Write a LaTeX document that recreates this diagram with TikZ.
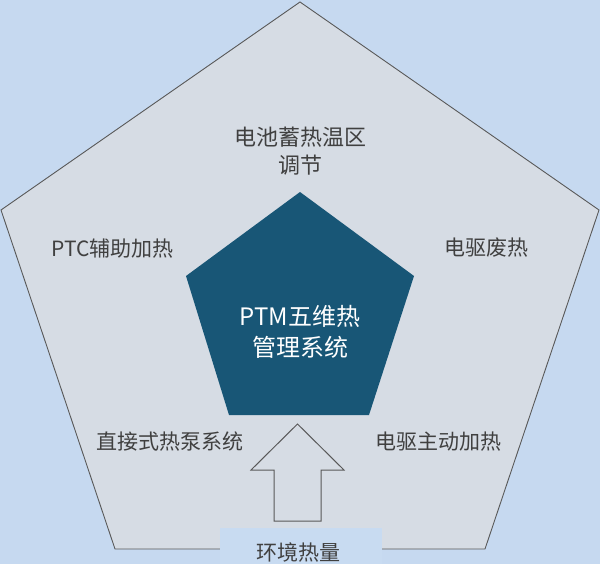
\documentclass[tikz,border=0pt]{standalone}
\usepackage{fontspec}
\newfontfamily\cjk{Noto Sans CJK SC}
\definecolor{bgblue}{HTML}{C6D9F0}
\definecolor{boxblue}{HTML}{C8DBF1}
\definecolor{pentfill}{HTML}{D6DCE4}
\definecolor{pentline}{HTML}{595959}
\definecolor{coreblue}{HTML}{185676}
\definecolor{txtgray}{HTML}{404040}
\begin{document}
\begin{tikzpicture}[x=1pt,y=-1pt,
  lbl/.style={text=txtgray,font=\cjk\fontsize{21}{28}\selectfont,align=center,inner sep=0pt},
  corelbl/.style={text=white,font=\cjk\fontsize{24}{31}\selectfont,align=center,inner sep=0pt},
  outerpent/.style={fill=pentfill,draw=pentline,line width=0.9pt,line join=miter},
  innerpent/.style={fill=coreblue,draw=none},
  hollowarrow/.style={fill=pentfill,draw=pentline,line width=1pt,line join=miter}]
\fill[bgblue] (0,0) rectangle (600,564);
\useasboundingbox (0,0) rectangle (600,564);
% outer pentagon
\coordinate (oT) at (300,2);
\coordinate (oL) at (1,210);
\coordinate (oR) at (599,210);
\coordinate (oBL) at (115,549);
\coordinate (oBR) at (485,549);
\draw[outerpent] (oT) -- (oR) -- (oBR) -- (oBL) -- (oL) -- cycle;
% inner pentagon
\coordinate (iT) at (300,192);
\coordinate (iL) at (186,276);
\coordinate (iR) at (414,276);
\coordinate (iBL) at (229,415);
\coordinate (iBR) at (369,415);
\fill[innerpent] (iT) -- (iR) -- (iBR) -- (iBL) -- (iL) -- cycle;
% hollow up arrow
\draw[hollowarrow] (297.5,424) -- (344,470) -- (321,470) -- (321,521) -- (274,521) -- (274,470) -- (251,470) -- cycle;
% bottom label box
\fill[boxblue] (220,528) rectangle (382,564);
% labels
\node[lbl,font=\cjk\fontsize{22}{28}\selectfont] (top) at (300,151.5) {电池蓄热温区\\调节};
\node[lbl] (ptc) at (112.5,249) {PTC辅助加热};
\node[lbl] (waste) at (486.5,248) {电驱废热};
\node[lbl] (pump) at (170,442) {直接式热泵系统};
\node[lbl] (active) at (438.5,442) {电驱主动加热};
\node[lbl] (env) at (298.5,552) {环境热量};
\node[corelbl] (core) at (300,331.5) {PTM五维热\\管理系统};
\end{tikzpicture}
\end{document}
